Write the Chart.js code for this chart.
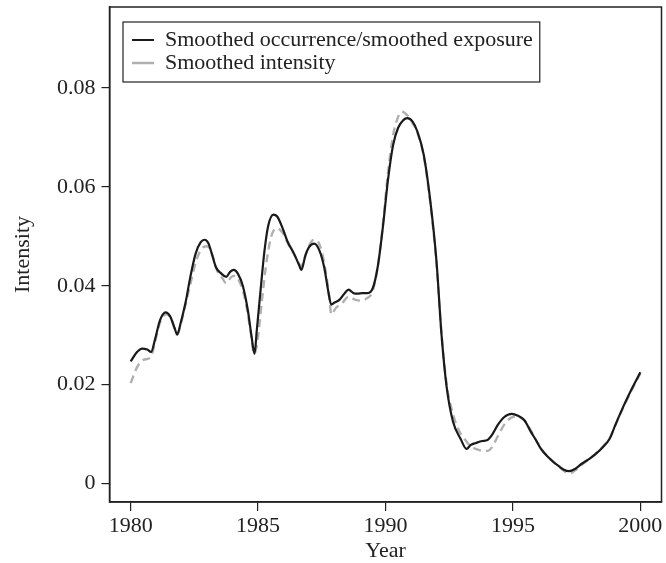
<!DOCTYPE html>
<html>
<head>
<meta charset="utf-8">
<script src="https://cdn.jsdelivr.net/npm/chart.js@4/dist/chart.umd.min.js"></script>
<style>
  body { margin: 0; background: #fff; }
  #wrap { width: 666px; height: 563px; }
</style>
</head>
<body>
<div id="wrap"><canvas id="intensityChart" width="666" height="563"></canvas></div>
<script>
// smoothed occurrence / smoothed exposure (black solid)
var occYears = [1980.0, 1980.25, 1980.45, 1980.65, 1980.8, 1980.95, 1981.15, 1981.37, 1981.55, 1981.72,
  1981.83, 1981.95, 1982.15, 1982.35, 1982.55, 1982.75, 1982.9, 1983.05, 1983.2, 1983.35,
  1983.55, 1983.75, 1983.9, 1984.05, 1984.2, 1984.4, 1984.6, 1984.75, 1984.86, 1984.95,
  1985.1, 1985.25, 1985.4, 1985.6, 1985.75, 1985.95, 1986.15, 1986.4, 1986.6, 1986.7,
  1986.85, 1987.0, 1987.2, 1987.4, 1987.6, 1987.75, 1987.87, 1988.0, 1988.2, 1988.4,
  1988.55, 1988.75, 1988.9, 1989.1, 1989.3, 1989.5, 1989.7, 1989.9, 1990.1, 1990.3,
  1990.5, 1990.7, 1990.85, 1991.05, 1991.25, 1991.5, 1991.75, 1992.0, 1992.2, 1992.4,
  1992.65, 1992.95, 1993.18, 1993.35, 1993.55, 1993.8, 1994.0, 1994.2, 1994.4, 1994.65,
  1994.95, 1995.2, 1995.45, 1995.7, 1995.9, 1996.1, 1996.35, 1996.6, 1996.8, 1997.0,
  1997.2, 1997.45, 1997.7, 1998.0, 1998.2, 1998.5, 1998.8, 1999.0, 1999.3, 1999.65, 2000.0];
var occExp = [0.0247, 0.0266, 0.0273, 0.0271, 0.0266, 0.0290, 0.0330, 0.0346, 0.0338, 0.0315,
  0.0301, 0.0322, 0.0365, 0.0420, 0.0465, 0.0488, 0.0493, 0.0486, 0.0462, 0.0437,
  0.0425, 0.0418, 0.0428, 0.0432, 0.0425, 0.0400, 0.0350, 0.0295, 0.0262, 0.0310,
  0.0392, 0.0470, 0.0522, 0.0544, 0.0540, 0.0518, 0.0490, 0.0466, 0.0443, 0.0432,
  0.0460, 0.0478, 0.0485, 0.0472, 0.0436, 0.0390, 0.0362, 0.0366, 0.0372, 0.0385,
  0.0392, 0.0385, 0.0384, 0.0385, 0.0385, 0.0395, 0.0440, 0.0520, 0.0615, 0.0685,
  0.0720, 0.0735, 0.0739, 0.0733, 0.0712, 0.0665, 0.0575, 0.0450, 0.0300, 0.0195,
  0.0125, 0.0090, 0.0070, 0.0078, 0.0082, 0.0086, 0.0088, 0.0100, 0.0118, 0.0134,
  0.0141, 0.0137, 0.0128, 0.0105, 0.0088, 0.0070, 0.0055, 0.0043, 0.0035, 0.0028,
  0.0025, 0.0030, 0.0040, 0.0050, 0.0058, 0.0072, 0.0091, 0.0116, 0.0152, 0.0190, 0.0225];

// smoothed intensity (grey dashed)
var intYears = [1980.0, 1980.25, 1980.5, 1980.8, 1980.95, 1981.15, 1981.4, 1981.6, 1981.8, 1981.9,
  1982.1, 1982.35, 1982.6, 1982.85, 1983.0, 1983.2, 1983.4, 1983.6, 1983.75, 1983.95,
  1984.1, 1984.3, 1984.5, 1984.7, 1984.85, 1984.98, 1985.15, 1985.35, 1985.55, 1985.75,
  1985.95, 1986.2, 1986.45, 1986.7, 1986.9, 1987.1, 1987.25, 1987.45, 1987.65, 1987.8,
  1987.87, 1988.05, 1988.3, 1988.55, 1988.8, 1989.0, 1989.25, 1989.5, 1989.7, 1989.9,
  1990.1, 1990.3, 1990.5, 1990.65, 1990.85, 1991.05, 1991.25, 1991.5, 1991.75, 1992.0,
  1992.2, 1992.4, 1992.65, 1992.9, 1993.1, 1993.35, 1993.6, 1993.85, 1994.0, 1994.2,
  1994.4, 1994.7, 1995.05, 1995.3, 1995.5, 1995.75, 1996.0, 1996.3, 1996.6, 1996.85,
  1997.05, 1997.2, 1997.45, 1997.7, 1998.0, 1998.25, 1998.5, 1998.8, 1999.0, 1999.3,
  1999.65, 2000.0];
var intensity = [0.0203, 0.0235, 0.0250, 0.0256, 0.0285, 0.0325, 0.0342, 0.0333, 0.0303, 0.0310,
  0.0350, 0.0405, 0.0455, 0.0478, 0.0480, 0.0463, 0.0430, 0.0415, 0.0405, 0.0418,
  0.0420, 0.0405, 0.0370, 0.0310, 0.0262, 0.0290, 0.0370, 0.0455, 0.0505, 0.0516,
  0.0508, 0.0483, 0.0460, 0.0440, 0.0468, 0.0490, 0.0493, 0.0478, 0.0430, 0.0375,
  0.0342, 0.0355, 0.0365, 0.0378, 0.0372, 0.0370, 0.0374, 0.0390, 0.0440, 0.0525,
  0.0630, 0.0705, 0.0742, 0.0752, 0.0745, 0.0730, 0.0710, 0.0662, 0.0570, 0.0445,
  0.0300, 0.0200, 0.0140, 0.0105, 0.0090, 0.0075, 0.0069, 0.0066, 0.0066, 0.0075,
  0.0095, 0.0122, 0.0135, 0.0133, 0.0125, 0.0103, 0.0080, 0.0058, 0.0043, 0.0032,
  0.0024, 0.0020, 0.0027, 0.0038, 0.0050, 0.0060, 0.0073, 0.0092, 0.0116, 0.0150,
  0.0188, 0.0222];

var xTicks = [1980, 1985, 1990, 1995, 2000];
var yTicks = [0, 0.02, 0.04, 0.06, 0.08];
var yTickLabels = ['0', '0.02', '0.04', '0.06', '0.08'];

function toPoints(xs, ys) {
  return xs.map(function (x, i) { return {x: x, y: ys[i]}; });
}

var serif = 'Liberation Serif';
var ink = '#222';

// moves the legend inside the plot and draws a frame round it and round the plot
var frames = {
  id: 'frames',
  afterLayout: function (chart) {
    chart.legend.left = chart.chartArea.left + 21.5;
    chart.legend.top = chart.chartArea.top + 21;
  },
  afterDraw: function (chart) {
    var ctx = chart.ctx;
    var a = chart.chartArea;
    var lg = chart.legend;
    ctx.save();
    ctx.strokeStyle = ink;
    ctx.lineWidth = 1.5;
    ctx.strokeRect(a.left, a.top, a.right - a.left, a.bottom - a.top);

    ctx.font = '22px "' + serif + '"';
    var maxW = 0;
    lg.legendItems.forEach(function (it) {
      maxW = Math.max(maxW, ctx.measureText(it.text).width);
    });
    var ix = lg.left + 1, iy = lg.top + 1;
    ctx.lineWidth = 1.2;
    ctx.strokeRect(ix - 9, iy - 7, 22 + 11 + maxW + 7 + 9, 60);
    ctx.restore();
  }
};

new Chart(document.getElementById('intensityChart'), {
  type: 'line',
  data: {
    datasets: [{
      label: 'Smoothed occurrence/smoothed exposure',
      data: toPoints(occYears, occExp),
      borderColor: '#1a1a1a',
      borderWidth: 2.2,
      pointRadius: 0,
      fill: false,
      cubicInterpolationMode: 'monotone'
    }, {
      label: 'Smoothed intensity',
      data: toPoints(intYears, intensity),
      borderColor: '#b0b0b0',
      borderWidth: 2.4,
      borderDash: [8, 5],
      pointRadius: 0,
      fill: false,
      cubicInterpolationMode: 'monotone'
    }]
  },
  options: {
    responsive: false,
    animation: false,
    layout: { padding: { top: 7, right: 4.5, left: 0, bottom: 0 } },
    plugins: {
      tooltip: { enabled: false },
      legend: {
        position: 'chartArea',
        align: 'start',
        labels: {
          usePointStyle: true,
          pointStyle: 'line',
          pointStyleWidth: 22,
          boxWidth: 22,
          padding: 1,
          color: ink,
          font: { family: serif, size: 22 }
        }
      }
    },
    scales: {
      x: {
        type: 'linear',
        min: 1979.17,
        max: 2000.83,
        afterFit: function (s) { s.height = 61; },
        afterBuildTicks: function (s) { s.ticks = xTicks.map(function (v) { return {value: v}; }); },
        grid: { drawOnChartArea: false, drawTicks: true, tickLength: 9, color: ink, lineWidth: 1.2 },
        border: { display: true, color: ink, width: 1.5 },
        ticks: {
          padding: 2,
          color: ink,
          font: { family: serif, size: 22 },
          maxRotation: 0,
          callback: function (v) { return String(v); }
        },
        title: {
          display: true,
          text: 'Year',
          color: ink,
          font: { family: serif, size: 22, lineHeight: 1.1 },
          padding: { top: 0, bottom: 0 }
        }
      },
      y: {
        min: -0.00374,
        max: 0.09638,
        afterFit: function (s) {
          s.width = 109.5;
          s.paddingTop = 0;
          s.paddingBottom = 0;
        },
        afterBuildTicks: function (s) { s.ticks = yTicks.map(function (v) { return {value: v}; }); },
        grid: { drawOnChartArea: false, drawTicks: true, tickLength: 8, color: ink, lineWidth: 1.2 },
        border: { display: true, color: ink, width: 1.5 },
        ticks: {
          padding: 6,
          color: ink,
          font: { family: serif, size: 22 },
          callback: function (v) {
            var i = yTicks.indexOf(v);
            return i >= 0 ? yTickLabels[i] : '';
          }
        },
        title: {
          display: true,
          text: 'Intensity',
          color: ink,
          font: { family: serif, size: 22 },
          padding: { top: 10, bottom: 0 }
        }
      }
    }
  },
  plugins: [frames]
});
</script>
</body>
</html>
